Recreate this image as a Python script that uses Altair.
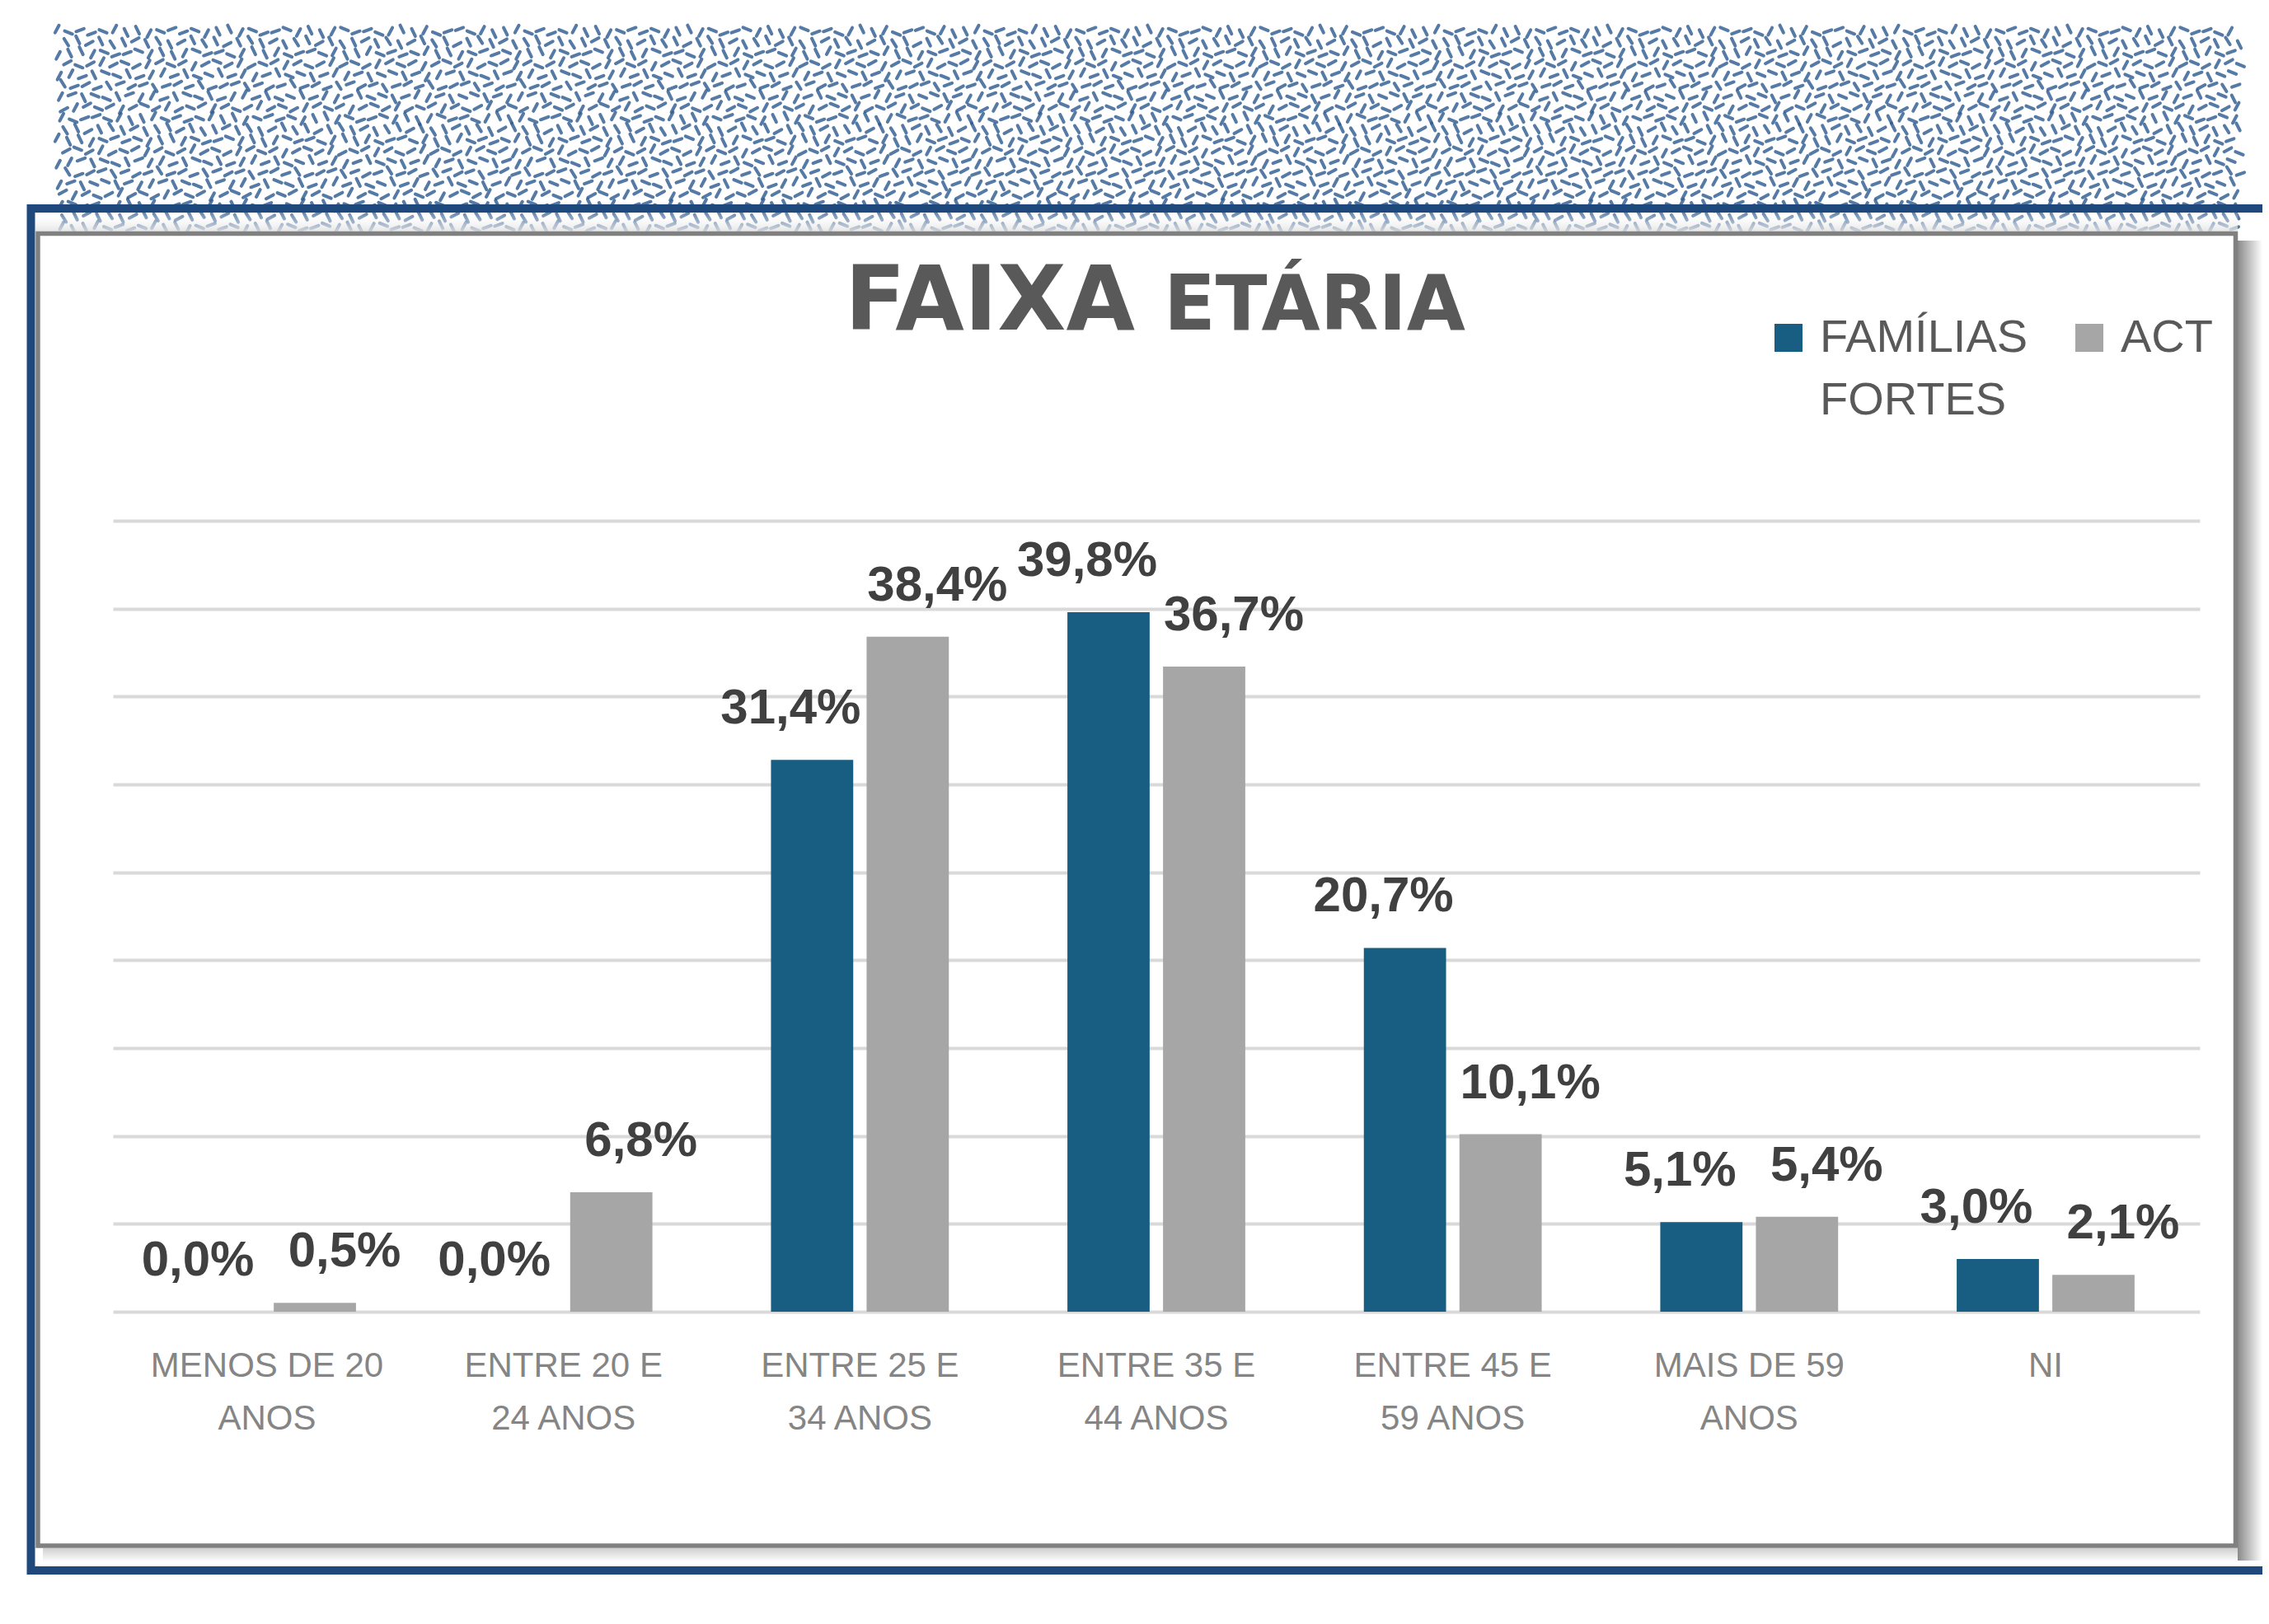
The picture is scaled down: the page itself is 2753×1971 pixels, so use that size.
import json
import altair as alt
import pandas as pd

# ---------------- data ----------------
categories = ["Menos de 20 anos", "Entre 20 e 24 anos", "Entre 25 e 34 anos",
              "Entre 35 e 44 anos", "Entre 45 e 59 anos", "Mais de 59 anos", "NI"]
tick_labels = [["MENOS DE 20", "ANOS"], ["ENTRE 20 E", "24 ANOS"], ["ENTRE 25 E", "34 ANOS"],
               ["ENTRE 35 E", "44 ANOS"], ["ENTRE 45 E", "59 ANOS"], ["MAIS DE 59", "ANOS"], ["NI"]]
series = ["FAMÍLIAS FORTES", "ACT"]
familias_fortes = [0.0, 0.0, 31.4, 39.8, 20.7, 5.1, 3.0]
act = [0.5, 6.8, 38.4, 36.7, 10.1, 5.4, 2.1]
y_ticks = [0, 5, 10, 15, 20, 25, 30, 35, 40, 45]
title_main = "FAIXA"
title_rest = "ETÁRIA"
colors = ["#175E82", "#A6A6A6"]

rows = []
for i, c in enumerate(categories):
    rows.append({"faixa": c, "serie": series[0], "valor": familias_fortes[i]})
    rows.append({"faixa": c, "serie": series[1], "valor": act[i]})
df = pd.DataFrame(rows)

one = alt.Data(values=[{"k": 0}])

# ---------------- decoration ----------------
NCOLS, NROWS = 190, 19
pattern = (
    alt.Chart(alt.sequence(0, NCOLS * NROWS, as_="i"))
    .transform_calculate(col=f"datum.i % {NCOLS}", row=f"floor(datum.i / {NCOLS})")
    .transform_calculate(
        px="-65 + datum.col * 13.95 + (datum.row % 2) * 7 + ((datum.col * 5 + datum.row * 3) % 5 - 2) * 1.4",
        py="-594 + datum.row * 13.2 + ((datum.col * 3 + datum.row * 7) % 5 - 2) * 1.4",
        ang="[118, 32, 64, 152, 22, 108, 160, 58][(datum.col * datum.col * 3 + datum.row * datum.row * 5"
            " + datum.col * datum.row * 7 + datum.col + datum.row * 2) % 8]",
    )
    .mark_point(shape="M-1,0L1,0", filled=False, stroke="#2C5A90", strokeWidth=4,
                strokeCap="round", size=100, opacity=0.8)
    .encode(
        x=alt.X("px:Q", scale=None, axis=None),
        y=alt.Y("py:Q", scale=None, axis=None),
        angle=alt.Angle("ang:Q", scale=None),
    )
)

fade = alt.Chart(one).mark_rect(
    fill=alt.Gradient(gradient="linear", x1=0, x2=0, y1=0, y2=1,
                      stops=[alt.GradientStop(color="rgba(255,255,255,0.1)", offset=0),
                             alt.GradientStop(color="rgba(225,225,225,0.85)", offset=1)])
).encode(x=alt.value(-94), x2=alt.value(2578), y=alt.value(-374), y2=alt.value(-351))

blue_frame = alt.Chart(one).mark_rect(fillOpacity=0, stroke="#1F487C", strokeWidth=10).encode(
    x=alt.value(-99.5), x2=alt.value(2650), y=alt.value(-379), y2=alt.value(1274))

shadow_right = alt.Chart(one).mark_rect(
    fill=alt.Gradient(gradient="linear", x1=0, x2=1, y1=0, y2=0,
                      stops=[alt.GradientStop(color="#8A8A8A", offset=0),
                             alt.GradientStop(color="#FFFFFF", offset=1)])
).encode(x=alt.value(2578), x2=alt.value(2608), y=alt.value(-340), y2=alt.value(1262))

shadow_bottom = alt.Chart(one).mark_rect(
    fill=alt.Gradient(gradient="linear", x1=0, x2=0, y1=0, y2=1,
                      stops=[alt.GradientStop(color="#D0D0D0", offset=0),
                             alt.GradientStop(color="#FFFFFF", offset=1)])
).encode(x=alt.value(-85), x2=alt.value(2578), y=alt.value(1247), y2=alt.value(1264))

panel = alt.Chart(one).mark_rect(fillOpacity=0, stroke="#808080", strokeWidth=5.5).encode(
    x=alt.value(-91), x2=alt.value(2575.5), y=alt.value(-348.5), y2=alt.value(1244))

title_a = alt.Chart(one).mark_text(
    text=title_main, align="right", baseline="alphabetic", font="DejaVu Sans",
    fontWeight="bold", fontSize=108, color="#595959"
).encode(x=alt.value(1240), y=alt.value(-232))

title_b = alt.Chart(one).mark_text(
    text=title_rest, align="left", baseline="alphabetic", font="DejaVu Sans",
    fontWeight="bold", fontSize=92, color="#595959"
).encode(x=alt.value(1275), y=alt.value(-232))

# ---------------- chart ----------------
label_expr = f"{json.dumps(tick_labels)}[indexof({json.dumps(categories)}, datum.value)]"

base = alt.Chart(df).encode(
    x=alt.X("faixa:N", sort=categories,
            scale=alt.Scale(paddingInner=0.4, paddingOuter=0.22),
            axis=alt.Axis(title=None, labelAngle=0, labelExpr=label_expr,
                          labelFont="Liberation Sans", labelFontSize=42, labelColor="#858585",
                          labelPadding=45, labelLineHeight=64, labelBaseline="top",
                          domain=False, ticks=False, grid=False, labelLimit=600)),
    xOffset=alt.XOffset("serie:N", sort=series, scale=alt.Scale(paddingInner=0.14)),
)

bars = base.mark_bar().encode(
    y=alt.Y("valor:Q", scale=alt.Scale(domain=[0, 45]),
            axis=alt.Axis(values=y_ticks, grid=True, gridColor="#D9D9D9", gridWidth=4,
                          domain=False, ticks=False, labels=False, title=None)),
    color=alt.Color("serie:N", sort=series,
                    scale=alt.Scale(domain=series, range=colors),
                    legend=alt.Legend(orient="none", legendX=2005, legendY=-250,
                                      direction="horizontal", title=None, symbolType="square",
                                      symbolSize=1156, symbolStrokeWidth=0,
                                      labelFont="Liberation Sans", labelFontSize=56,
                                      labelColor="#595959", labelOffset=10, columnPadding=46,
                                      labelExpr="indexof(datum.label, ' ') < 0 ? [datum.label, ''] : split(datum.label, ' ')",
                                      labelLimit=600, padding=0)),
)

text_style = dict(font="Liberation Sans", fontWeight="bold", fontSize=60, color="#404040",
                  baseline="alphabetic", dy=-44)
fmt = "replace(format(datum.valor, '.1f'), '.', ',') + '%'"

labels_ff = base.transform_filter(alt.datum.serie == series[0]).transform_calculate(
    rotulo=fmt).mark_text(dx=-26, **text_style).encode(y=alt.Y("valor:Q"), text="rotulo:N")

labels_act = base.transform_filter(alt.datum.serie == series[1]).transform_calculate(
    rotulo=fmt).mark_text(dx=36, **text_style).encode(y=alt.Y("valor:Q"), text="rotulo:N")

chart = alt.layer(
    pattern, fade, blue_frame, shadow_right, shadow_bottom, panel,
    title_a, title_b, bars, labels_ff, labels_act
).properties(
    width=2532, height=960,
    autosize=alt.AutoSizeParams(type="none"),
    padding={"left": 129, "top": 624, "right": 76, "bottom": 371},
).configure(
    style={"guide-label": {"lineHeight": 76}},
    view=alt.ViewConfig(strokeWidth=0),
)

chart.save("out.html", embed_options={"renderer": "svg", "actions": False})
